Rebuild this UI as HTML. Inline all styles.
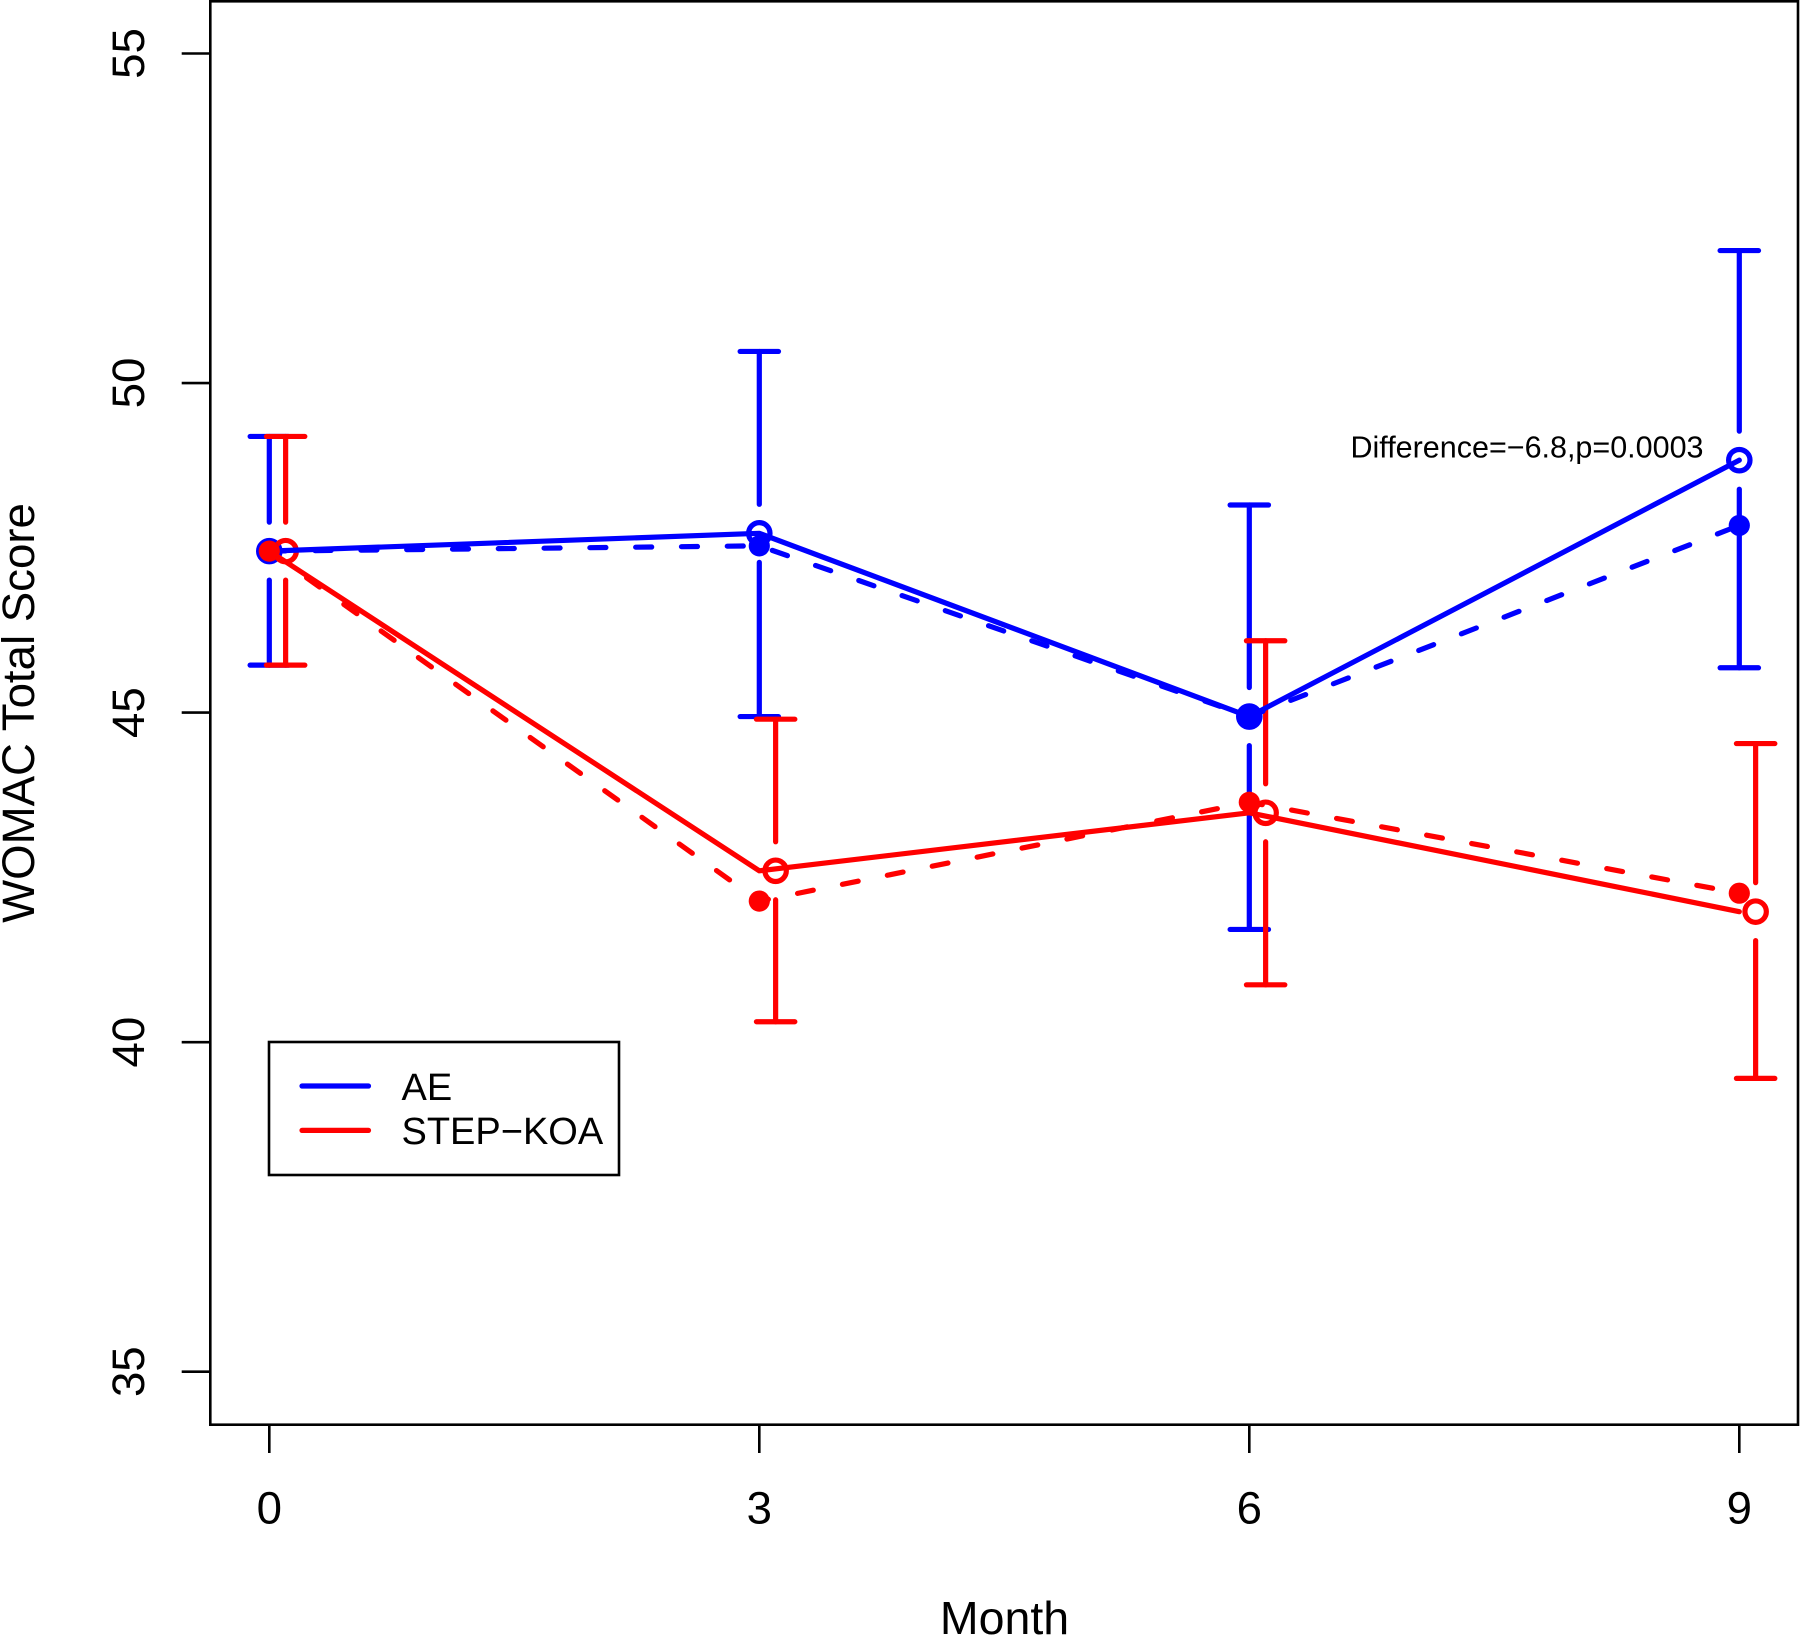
<!DOCTYPE html>
<html lang="en">
<head>
<meta charset="utf-8">
<title>WOMAC Total Score by Month</title>
<style>
  html, body { margin: 0; padding: 0; background: #fff; }
  svg { display: block; }
  text { font-family: "Liberation Sans", sans-serif; fill: #000; }
</style>
</head>
<body>
<svg id="chart" xmlns="http://www.w3.org/2000/svg" width="1800" height="1635" viewBox="0 0 1800 1635">
  <rect x="0" y="0" width="1800" height="1635" fill="#fff"/>
  <g id="errors-ae"></g>
  <g id="errors-step"></g>
  <g id="lines-ae"></g>
  <g id="lines-step"></g>
  <rect x="210.3" y="1.3" width="1587.7" height="1423.4" fill="none" stroke="#000" stroke-width="2.6"/>
  <g id="x-axis"></g>
  <g id="y-axis"></g>
  <text x="1004.5" y="1634" font-size="46.5" text-anchor="middle">Month</text>
  <text transform="translate(34 713) rotate(-90)" font-size="45.6" text-anchor="middle">WOMAC Total Score</text>
  <text x="1527" y="457.3" font-size="30.5" text-anchor="middle">Difference=−6.8,p=0.0003</text>
  <g>
    <rect x="269" y="1042" width="350" height="133" fill="#fff" stroke="#000" stroke-width="2.6"/>
    <line x1="302" y1="1086" x2="368.5" y2="1086" stroke="#0000ff" stroke-width="5.2" stroke-linecap="round"/>
    <text x="401.5" y="1100" font-size="38">AE</text>
    <line x1="302" y1="1130.4" x2="368.5" y2="1130.4" stroke="#ff0000" stroke-width="5.2" stroke-linecap="round"/>
    <text x="401.5" y="1144" font-size="38">STEP−KOA</text>
  </g>
</svg>
<script>
const months = [0, 3, 6, 9];
const yTicks = [35, 40, 45, 50, 55];

const aeSolid = [47.45, 47.72, 44.94, 48.83];
const aeDashed = [47.45, 47.53, 44.94, 47.84];
const aeUpper = [49.19, 50.48, 48.15, 52.01];
const aeLower = [45.72, 44.94, 41.71, 45.68];

const stepSolid = [47.45, 42.60, 43.48, 41.98];
const stepDashed = [47.45, 42.14, 43.64, 42.26];
const stepUpper = [49.19, 44.90, 46.09, 44.53];
const stepLower = [45.72, 40.31, 40.87, 39.45];

const SVG_NS = 'http://www.w3.org/2000/svg';
const BLUE = '#0000ff';
const RED = '#ff0000';
const STROKE = 5.2;
const GAP = 29;
const CAP = 19.2;
const STEP_OFFSET = 0.1;

function xScale(m) {
  return 269.3 + m * (1739.3 - 269.3) / 9;
}
function yScale(v) {
  return 1371.7 - (v - 35) * (1371.7 - 53.5) / 20;
}
function make(tag, attrs, parent) {
  const el = document.createElementNS(SVG_NS, tag);
  Object.keys(attrs).forEach(function (k) { el.setAttribute(k, attrs[k]); });
  parent.appendChild(el);
  return el;
}
function segment(parent, x1, y1, x2, y2, color) {
  return make('line', {
    x1: x1, y1: y1, x2: x2, y2: y2,
    stroke: color, 'stroke-width': STROKE, 'stroke-linecap': 'round'
  }, parent);
}

function drawErrorBars(parent, prefix, centers, uppers, lowers, color, shift) {
  months.forEach(function (m, i) {
    const x = xScale(m + shift);
    const yc = yScale(centers[i]);
    const yu = yScale(uppers[i]);
    const yl = yScale(lowers[i]);

    const upper = segment(parent, x, yu, x, yc - GAP, color);
    
    

    const lower = segment(parent, x, yc + GAP, x, yl, color);
    
    

    const capTop = segment(parent, x - CAP, yu, x + CAP, yu, color);
    
    

    const capBottom = segment(parent, x - CAP, yl, x + CAP, yl, color);
    
    

    const ring = make('circle', {
      cx: x, cy: yc, r: 10.7, fill: 'none', stroke: color, 'stroke-width': STROKE
    }, parent);
    
    
  });
}

function polyPoints(values) {
  return months.map(function (m, i) {
    return xScale(m) + ',' + yScale(values[i]);
  }).join(' ');
}

function drawSeries(parent, prefix, solid, dashed, color) {
  const solidLine = make('polyline', {
    points: polyPoints(solid), fill: 'none', stroke: color,
    'stroke-width': STROKE, 'stroke-linecap': 'round', 'stroke-linejoin': 'round'
  }, parent);
  
  

  const dashedLine = make('polyline', {
    points: polyPoints(dashed), fill: 'none', stroke: color,
    'stroke-width': STROKE, 'stroke-linecap': 'round', 'stroke-linejoin': 'round',
    'stroke-dasharray': '16 29.8'
  }, parent);
  
  

  months.forEach(function (m, i) {
    const dot = make('circle', {
      cx: xScale(m), cy: yScale(dashed[i]), r: 10.6, fill: color
    }, parent);
    
    
  });
}

function drawAxes() {
  const xAxis = document.getElementById('x-axis');
  const yAxis = document.getElementById('y-axis');

  months.forEach(function (m) {
    const x = xScale(m);
    const tick = make('line', {
      x1: x, y1: 1424.7, x2: x, y2: 1453, stroke: '#000', 'stroke-width': 2.6
    }, xAxis);
    
    

    const label = make('text', {
      x: x, y: 1523.5, 'font-size': 45.6, 'text-anchor': 'middle'
    }, xAxis);
    label.textContent = String(m);
    
    
  });

  yTicks.forEach(function (v) {
    const y = yScale(v);
    const tick = make('line', {
      x1: 181.7, y1: y, x2: 210.3, y2: y, stroke: '#000', 'stroke-width': 2.6
    }, yAxis);
    
    

    const label = make('text', {
      transform: 'translate(144 ' + y + ') rotate(-90)', 'font-size': 45.6, 'text-anchor': 'middle'
    }, yAxis);
    label.textContent = String(v);
    
    
  });
}

drawErrorBars(document.getElementById('errors-ae'), 'ae', aeSolid, aeUpper, aeLower, BLUE, 0);
drawErrorBars(document.getElementById('errors-step'), 'step-koa', stepSolid, stepUpper, stepLower, RED, STEP_OFFSET);
drawSeries(document.getElementById('lines-ae'), 'ae', aeSolid, aeDashed, BLUE);
drawSeries(document.getElementById('lines-step'), 'step-koa', stepSolid, stepDashed, RED);
drawAxes();
</script>
</body>
</html>
